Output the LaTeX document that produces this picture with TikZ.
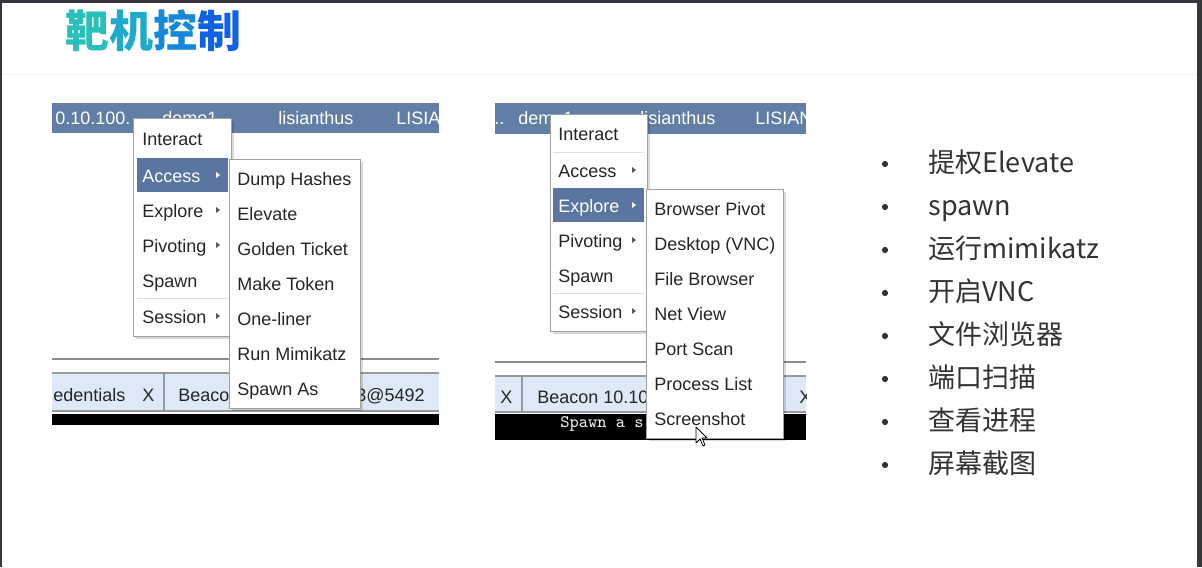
\documentclass[tikz,border=0pt]{standalone}
\usepackage{fontspec}
\setmainfont{Liberation Sans}
\newfontfamily\cjk{Noto Sans CJK SC}
\definecolor{framegray}{RGB}{52,56,61}
\definecolor{barblue}{RGB}{98,126,166}
\definecolor{hiblue}{RGB}{90,118,160}
\definecolor{tabblue}{RGB}{222,233,247}
\definecolor{menuline}{RGB}{160,160,160}
\definecolor{titleA}{RGB}{40,192,186}
\definecolor{titleB}{RGB}{30,170,202}
\definecolor{titleC}{RGB}{22,136,218}
\definecolor{titleD}{RGB}{16,98,228}
\tikzset{
  menubox/.style={draw=menuline, fill=white, line width=0.5pt},
  menushadow/.style={fill=black, opacity=0.15},
  item/.style={anchor=base west, inner sep=0pt, font=\fontsize{9}{9}\selectfont, text=black!85},
  bartext/.style={item, text=white},
  subarrow/.style={fill=black!65},
  bulletdot/.style={circle, fill=black!80, inner sep=0pt, minimum size=3.1pt},
  bullettext/.style={anchor=base west, inner sep=0pt, font=\cjk\fontsize{13.5}{13.5}\selectfont, text=black!80},
}
\begin{document}
\begin{tikzpicture}[x=0.5pt, y=-0.5pt]
    \useasboundingbox (0,0) rectangle (1202,567);
    \fill[white] (0,0) rectangle (1202,567);
    % frame and header band
    \fill[framegray] (0,0) rectangle (1202,3);
    \fill[framegray] (0,0) rectangle (2,567);
    \fill[framegray] (1197,0) rectangle (1202,567);
    \draw[black!5, line width=0.5pt] (2,75) -- (1197,75);
    \node[anchor=west, inner sep=0pt, font=\cjk\bfseries\fontsize{22}{22}\selectfont] (title) at (65,31)
        {\textcolor{titleA}{靶}\textcolor{titleB}{机}\textcolor{titleC}{控}\textcolor{titleD}{制}};

    % left screenshot: Access
    \begin{scope}
    \clip (52,103) rectangle (439,425);
    \fill[barblue] (52,103) rectangle (439,133);
    \node[bartext] (lip) at (55,124) {0.10.100.};
    \node[bartext] (luser) at (162,124) {demo1};
    \node[bartext] (lhost) at (278,124) {lisianthus};
    \node[bartext] (lcomp) at (396,124) {LISIAN};
    \draw[black!45, line width=0.6pt] (52,359) -- (439,359);
    \fill[tabblue] (52,373) rectangle (439,411);
    \draw[black!40, line width=0.6pt] (52,373) -- (439,373) (52,411) -- (439,411) (164,373) -- (164,411);
    \node[item] (ltab1) at (53,401) {edentials};
    \node[item] (lx) at (142,401) {X};
    \node[item] (ltab2) at (178,401) {Beacon};
    \node[item] (ltab3) at (356,401) {3@5492};
    \fill[black] (52,414) rectangle (439,425);
    % main menu
    \fill[menushadow] (136,121) rectangle (234,339);
    \draw[menubox] (133,118) rectangle (231,336);
    \fill[hiblue] (137,158) rectangle (228,192);
    \draw[black!12, line width=0.5pt] (137,298) -- (228,298);
    \foreach \t/\y [count=\i] in {Interact/138, Explore/210, Pivoting/245, Spawn/280, Session/316}
        \node[item] (lm\i) at (142,\y+7) {\t};
    \node[item, text=white] (lacc) at (142,182) {Access};
    \fill[white] (216,172) -- (220,175) -- (216,178) -- cycle;
    \foreach \y in {210,245,316}
        \fill[subarrow] (216,\y-3) -- (220,\y) -- (216,\y+3) -- cycle;
    % sub menu
    \fill[menushadow] (232,162) rectangle (363,411);
    \draw[menubox] (229,159) rectangle (360,408);
    \foreach \t [count=\i from 0] in {Dump Hashes, Elevate, Golden Ticket, Make Token, One-liner, Run Mimikatz, Spawn As}
        \node[item] (ls\i) at (237,185+35*\i) {\t};
    \end{scope}

    % right screenshot: Explore
    \begin{scope}
    \clip (495,103) rectangle (806,440);
    \fill[barblue] (495,103) rectangle (806,134);
    \node[bartext] (rdots) at (494,124) {..};
    \node[bartext] (ruser) at (518,124) {demo1};
    \node[bartext] (rhost) at (640,124) {lisianthus};
    \node[bartext] (rcomp) at (755,124) {LISIAN};
    \draw[black!45, line width=0.6pt] (495,362) -- (806,362);
    \fill[tabblue] (495,376) rectangle (806,412);
    \draw[black!40, line width=0.6pt] (495,376) -- (806,376) (495,412) -- (806,412) (522,376) -- (522,412);
    \node[item] (rx1) at (500,403) {X};
    \node[item] (rtab) at (537,403) {Beacon 10.10};
    \node[item] (rx2) at (799,403) {X};
    \fill[black] (495,414) rectangle (806,440);
    \node[anchor=base west, inner sep=0pt, font=\ttfamily\fontsize{8.8}{8.8}\selectfont, text=black!8] (rcons) at (560,427) {Spawn a s};
    % main menu
    \fill[menushadow] (553,117) rectangle (650,334);
    \draw[menubox] (550,114) rectangle (647,331);
    \draw[black!12, line width=0.5pt] (553,152) -- (644,152) (553,293) -- (644,293);
    \fill[hiblue] (553,188) rectangle (644,222);
    \foreach \t/\y [count=\i] in {Interact/133, Access/170, Pivoting/240, Spawn/275, Session/311}
        \node[item] (rm\i) at (558,\y+7) {\t};
    \node[item, text=white] (rexp) at (558,212) {Explore};
    \fill[white] (632,202) -- (636,205) -- (632,208) -- cycle;
    \foreach \y in {170,240,311}
        \fill[subarrow] (632,\y-3) -- (636,\y) -- (632,\y+3) -- cycle;
    % sub menu
    \fill[menushadow] (649,192) rectangle (786,441);
    \draw[menubox] (646,189) rectangle (783,438);
    \foreach \t [count=\i from 0] in {Browser Pivot, Desktop (VNC), File Browser, Net View, Port Scan, Process List, Screenshot}
        \node[item] (rs\i) at (654,215+35*\i) {\t};
    \end{scope}
    % mouse pointer
    \draw[fill=white, line width=0.4pt, line join=round] (696,427) -- (696,443) -- (700,439) -- (703,446) -- (705,445) -- (702,438) -- (707,438) -- cycle;

    % bullet list
    \foreach \t [count=\i from 0] in {提权Elevate, spawn, 运行mimikatz, 开启VNC, 文件浏览器, 端口扫描, 查看进程, 屏幕截图} {
        \node[bulletdot] (dot\i) at (885,164+43*\i) {};
        \node[bullettext] (note\i) at (928,172+43*\i) {\t};
    }
\end{tikzpicture}
\end{document}
